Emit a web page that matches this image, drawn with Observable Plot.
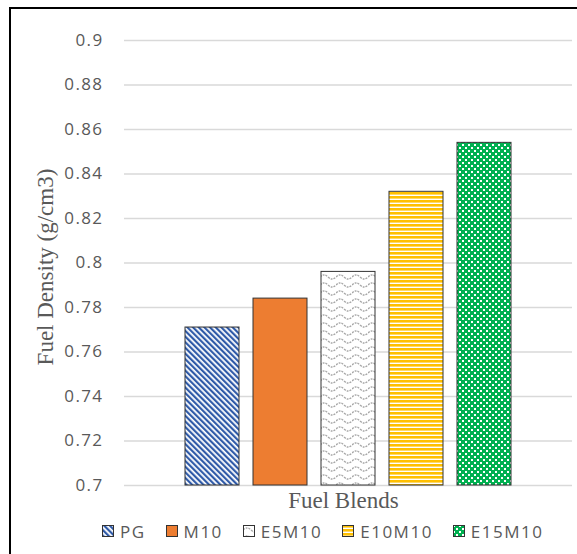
<!DOCTYPE html>
<html>
<head>
<meta charset="utf-8">
<script src="https://cdn.jsdelivr.net/npm/d3@7"></script>
<script src="https://cdn.jsdelivr.net/npm/@observablehq/plot@0.6"></script>
<style>
  html, body { margin: 0; padding: 0; background: #fff; }
  #wrap { position: relative; width: 577px; height: 554px; overflow: hidden; }
  #frame { position: absolute; left: 9px; top: 7px; width: 700px; height: 700px; border: 2px solid #000; box-sizing: border-box; pointer-events: none; }
  #legend { display: flex; align-items: center; height: 32px; padding-left: 102px; gap: 20px;
            font-family: "Open Sans", sans-serif; font-size: 17px; letter-spacing: 1.5px; color: #595959; }
  #legend .item { display: flex; align-items: center; }
  #legend svg { margin-right: 6px; display: block; }
</style>
</head>
<body>
<svg width="0" height="0" style="position:absolute">
  <defs>
    <pattern id="pat-0" patternUnits="userSpaceOnUse" width="4" height="4" patternTransform="rotate(-45)">
      <rect width="4" height="4" fill="#fff"/>
      <rect width="2.2" height="4" fill="#2F5AA8"/>
    </pattern>
    <pattern id="pat-1" patternUnits="userSpaceOnUse" width="4" height="4">
      <rect width="4" height="4" fill="#ED7D31"/>
    </pattern>
    <pattern id="pat-2" patternUnits="userSpaceOnUse" width="16" height="8">
      <rect width="16" height="8" fill="#fff"/>
      <path d="M0,5 Q4,1 8,5 T16,5" fill="none" stroke="#A6A6A6" stroke-width="1.3" stroke-dasharray="2 1"/>
    </pattern>
    <pattern id="pat-3" patternUnits="userSpaceOnUse" width="4" height="4">
      <rect width="4" height="4" fill="#fff"/>
      <rect y="0" width="4" height="2" fill="#FFC000"/>
      <rect y="2" width="4" height="1" fill="#FFD966"/>
    </pattern>
    <pattern id="pat-4" patternUnits="userSpaceOnUse" width="6" height="6">
      <rect width="6" height="6" fill="#00B050"/>
      <rect x="0" y="0" width="2" height="2" fill="#fff"/>
      <rect x="3" y="3" width="2" height="2" fill="#fff"/>
    </pattern>
  </defs>
</svg>
<div id="wrap">
  <div id="chart"></div>
  <div id="legend"></div>
  <div id="frame"></div>
</div>
<script>
const blends = ["PG", "M10", "E5M10", "E10M10", "E15M10"];
const density = [0.771, 0.784, 0.796, 0.832, 0.854];
const yDomain = [0.7, 0.9];
const yTicks = [0.7, 0.72, 0.74, 0.76, 0.78, 0.8, 0.82, 0.84, 0.86, 0.88, 0.9];
const yTitle = "Fuel Density (g/cm3)";
const xTitle = "Fuel Blends";

const fills = blends.map((b, i) => `url(#pat-${i})`);
const data = blends.map((b, i) => ({blend: b, value: density[i]}));

const fmt = d => String(+d.toFixed(2));

const chart = Plot.plot({
  width: 577,
  height: 515,
  marginTop: 40,
  marginBottom: 30,
  marginLeft: 124,
  marginRight: 5,
  style: {fontFamily: "'Open Sans', sans-serif", fontSize: "17px", color: "#595959", background: "transparent"},
  x: {domain: blends, range: [182.5, 513.5], paddingInner: 0.2, paddingOuter: 0, axis: null},
  y: {domain: yDomain, ticks: yTicks, tickSize: 0, tickPadding: 21, tickFormat: fmt, label: null},
  color: {domain: blends, range: fills},
  marks: [
    Plot.ruleY(yTicks, {stroke: "#D9D9D9", strokeWidth: 1.5}),
    Plot.barY(data, {x: "blend", y1: () => yDomain[0], y2: "value", fill: "blend", stroke: "#333", strokeWidth: 1}),
    Plot.text([xTitle], {frameAnchor: "bottom", dy: 22, dx: -5, fontFamily: "'Liberation Serif', serif", fontSize: 23, fill: "#595959"}),
    Plot.text([yTitle], {frameAnchor: "left", textAnchor: "middle", dx: -79, dy: 4, rotate: -90, fontFamily: "'Liberation Serif', serif", fontSize: 23, fill: "#595959"})
  ]
});
document.getElementById("chart").appendChild(chart);

// letter spacing for the sans tick labels only
d3.select(chart).selectAll("text").each(function() {
  const t = this.textContent;
  if (t !== xTitle && t !== yTitle) d3.select(this).style("letter-spacing", "1.4px");
});

// legend
const legend = d3.select("#legend");
blends.forEach((b, i) => {
  const item = legend.append("div").attr("class", "item");
  const s = item.append("svg").attr("width", 12).attr("height", 12);
  s.append("rect").attr("x", 0.5).attr("y", 0.5).attr("width", 11).attr("height", 11)
    .attr("fill", fills[i]).attr("stroke", "#333").attr("stroke-width", 1);
  item.append("span").text(b);
});
</script>
</body>
</html>
